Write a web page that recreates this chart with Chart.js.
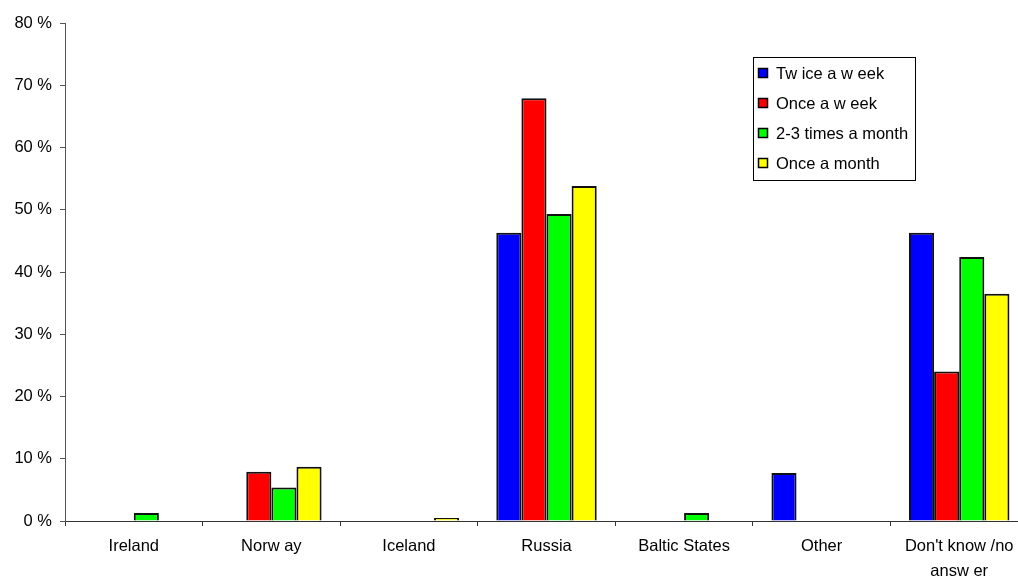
<!DOCTYPE html>
<html lang="en">
<head>
    <meta charset="UTF-8">
    <title>Frequency by destination</title>
    <script src="https://cdn.jsdelivr.net/npm/chart.js"></script>
    <style>
        html, body {
            margin: 0;
            padding: 0;
            background: #fff;
            overflow: hidden;
        }
        .wrap {
            width: 1040px;
            height: 576px;
        }
    </style>
</head>
<body>

<div class="wrap">
    <canvas id="chart" width="1040" height="576"></canvas>
</div>

<script>
const categories = ['Ireland', 'Norw ay', 'Iceland', 'Russia', 'Baltic States', 'Other', ["Don't know /no", 'answ er']];
const seriesNames = ['Tw ice a w eek', 'Once a w eek', '2-3 times a month', 'Once a month'];
const twiceWeek = [null, null, null, 46.3, null, 7.7, 46.3];
const onceWeek = [null, 7.9, null, 67.9, null, null, 24.0];
const twoThreeMonth = [1.3, 5.4, null, 49.3, 1.3, null, 42.4];
const onceMonth = [null, 8.7, 0.5, 53.8, null, null, 36.5];
const colors = ['#0000ff', '#ff0000', '#00ff00', '#ffff00'];

const font = { family: 'Arial, "Liberation Sans", sans-serif', size: 16.5 };

// legend drawn as a box inside the plot, like the original
const boxLegend = {
    id: 'boxLegend',
    afterDraw(chart) {
        const ctx = chart.ctx;
        const x = 753, y = 57, w = 162, h = 123;
        ctx.save();
        ctx.fillStyle = '#fff';
        ctx.fillRect(x, y, w, h);
        ctx.strokeStyle = '#000';
        ctx.lineWidth = 1;
        ctx.strokeRect(x + 0.5, y + 0.5, w, h);
        ctx.font = font.size + 'px ' + font.family;
        ctx.textBaseline = 'middle';
        chart.data.datasets.forEach((ds, i) => {
            const cy = y + 16 + i * 30;
            ctx.fillStyle = ds.backgroundColor;
            ctx.fillRect(x + 5, cy - 5, 10, 10);
            ctx.lineWidth = 1.5;
            ctx.strokeRect(x + 5.5, cy - 4.5, 9, 9);
            ctx.fillStyle = '#000';
            ctx.fillText(ds.label, x + 23, cy + 1);
        });
        ctx.restore();
    }
};

const ctx = document.getElementById('chart').getContext('2d');
new Chart(ctx, {
    type: 'bar',
    data: {
        labels: categories,
        datasets: [twiceWeek, onceWeek, twoThreeMonth, onceMonth].map((d, i) => ({
            label: seriesNames[i],
            data: d,
            backgroundColor: colors[i],
            borderColor: '#111',
            borderWidth: 2,
            categoryPercentage: 0.73,
            barPercentage: 1.0
        }))
    },
    options: {
        responsive: false,
        animation: false,
        layout: { padding: { top: 23, right: 12, left: 0, bottom: 0 } },
        plugins: {
            legend: { display: false },
            tooltip: { enabled: false }
        },
        scales: {
            x: {
                offset: true,
                grid: {
                    offset: true,
                    drawOnChartArea: false,
                    drawTicks: true,
                    tickLength: 5,
                    color: '#333'
                },
                border: { color: '#333', width: 1 },
                ticks: {
                    color: '#000',
                    font: { ...font, lineHeight: 1.5 },
                    padding: 8,
                    maxRotation: 0,
                    autoSkip: false
                },
                afterFit(scale) { scale.height = 55; }
            },
            y: {
                min: 0,
                max: 80,
                grid: {
                    drawOnChartArea: false,
                    drawTicks: true,
                    tickLength: 5,
                    color: '#555'
                },
                border: { color: '#555', width: 1 },
                ticks: {
                    stepSize: 10,
                    color: '#000',
                    font: font,
                    padding: 8,
                    callback: v => v + ' %'
                },
                afterFit(scale) { scale.width = 65; }
            }
        }
    },
    plugins: [boxLegend]
});
</script>

</body>
</html>
